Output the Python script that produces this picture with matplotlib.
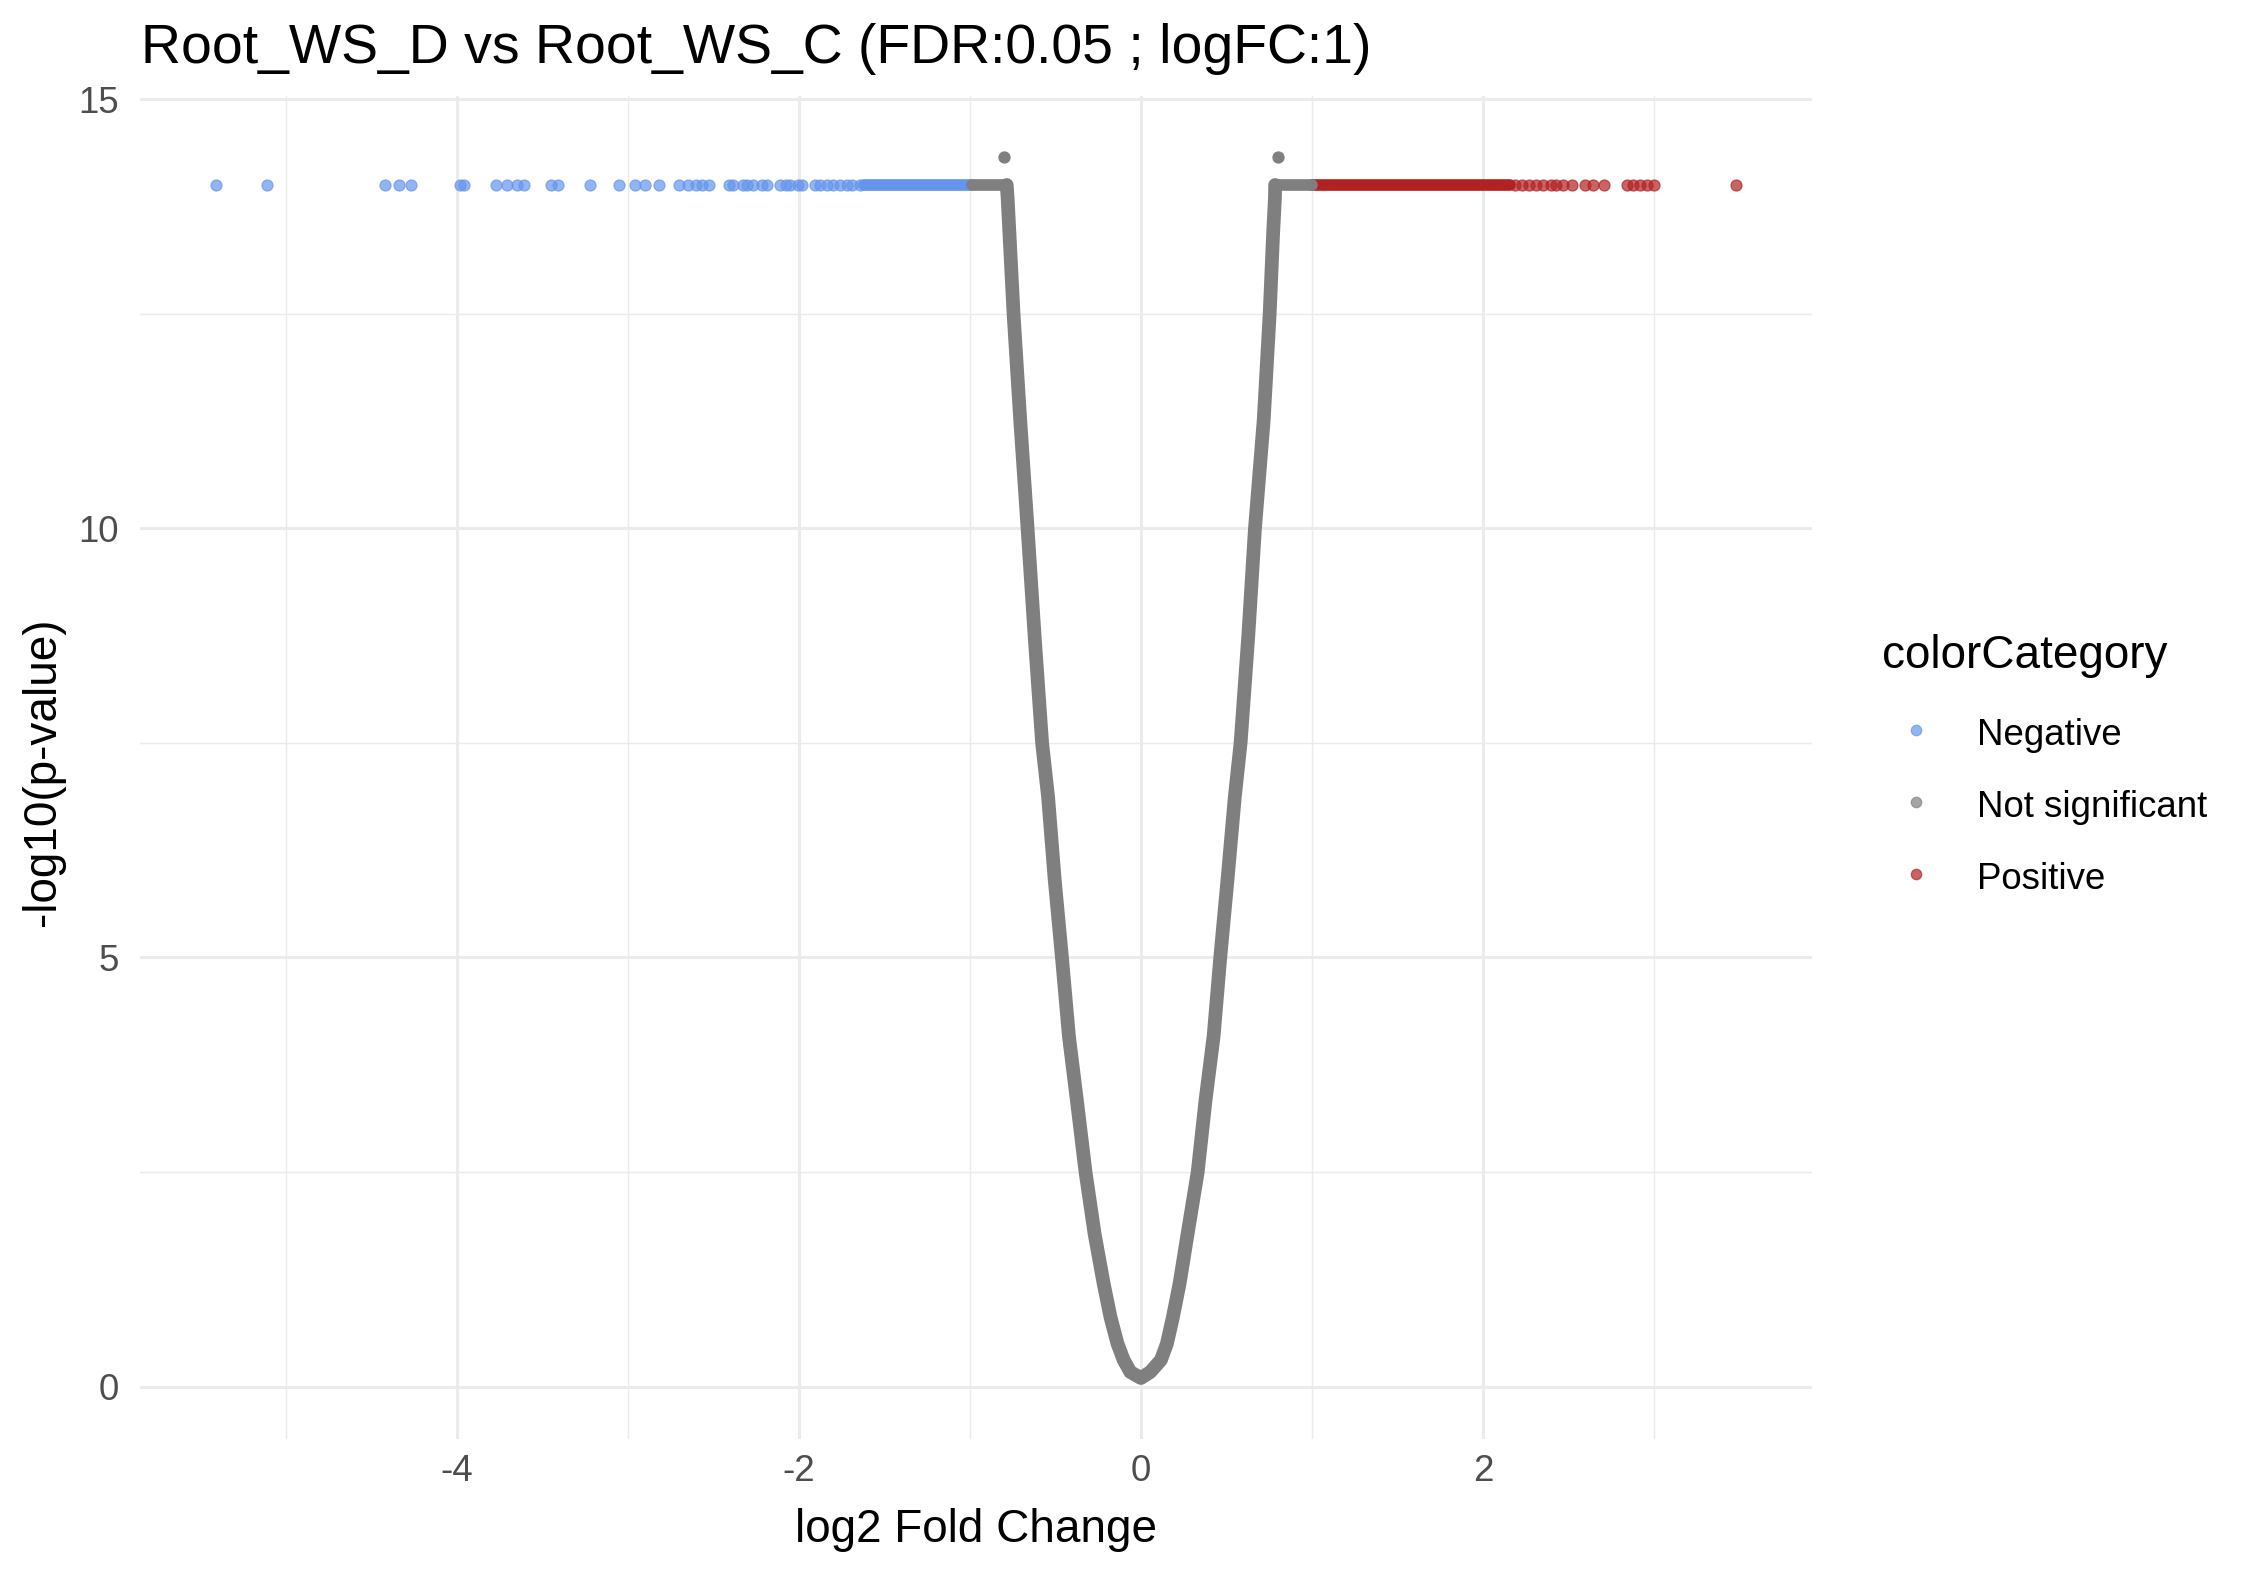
import matplotlib
matplotlib.use("Agg")
import matplotlib.pyplot as plt
from matplotlib.lines import Line2D

plt.rcParams['font.family'] = ['Liberation Sans', 'DejaVu Sans']
plt.rcParams['axes.unicode_minus'] = False

# capped points sit on one row at -log10(p) = 14
cap_y = 14.0
neg_x = [-5.41, -5.11, -4.42, -4.34, -4.27, -3.98, -3.96, -3.77, -3.71, -3.65,
         -3.61, -3.45, -3.41, -3.22, -3.05, -2.96, -2.90, -2.82, -2.70, -2.65,
         -2.60, -2.57, -2.525, -2.408, -2.384, -2.33, -2.306, -2.267, -2.219,
         -2.189, -2.111, -2.076, -2.053, -2.004, -1.984, -1.906, -1.877, -1.838,
         -1.799, -1.76, -1.721, -1.692, -1.643]
neg_run = [-1.62, -0.99]          # dense stretch of negatives
pos_x = [2.19, 2.23, 2.27, 2.31, 2.35, 2.40, 2.43, 2.47, 2.52, 2.60,
         2.645, 2.71, 2.84, 2.88, 2.92, 2.96, 3.00, 3.48]
pos_run = [1.0, 2.16]             # dense stretch of positives
ns_run_left = [-0.99, -0.785]
ns_run_right = [0.785, 1.0]
ns_top_x = [-0.80, 0.80]
ns_top_y = [14.33, 14.33]

# the not-significant "V" (read along the band)
v_y = [14.0, 13.86, 13.43, 12.5, 11.26, 10.0, 8.75, 7.5, 6.87, 5.92, 5.0,
       4.08, 3.34, 2.5, 1.78, 1.20, 0.81, 0.50, 0.31, 0.17, 0.10]
v_left = [-0.785, -0.78, -0.769, -0.745, -0.706, -0.663, -0.622, -0.578, -0.543,
          -0.505, -0.462, -0.421, -0.375, -0.324, -0.271, -0.218, -0.178, -0.137,
          -0.101, -0.062, 0.0]
v_right = [0.785, 0.784, 0.773, 0.753, 0.718, 0.667, 0.628, 0.583, 0.549,
           0.507, 0.464, 0.425, 0.378, 0.332, 0.273, 0.226, 0.187, 0.152,
           0.117, 0.055, 0.0]

categories = ['Negative', 'Not significant', 'Positive']
colors = {'Negative': '#6495ED', 'Not significant': '#7F7F7F', 'Positive': '#B22222'}

fig = plt.figure(figsize=(15, 10.5), dpi=150)
ax = fig.add_axes([0.0622, 0.0863, 0.7431, 0.853])

dot = dict(s=28, alpha=0.7, linewidths=0.6, zorder=3)
ax.scatter(neg_x, [cap_y] * len(neg_x), color=colors['Negative'],
           edgecolors=colors['Negative'], **dot)
ax.scatter(pos_x, [cap_y] * len(pos_x), color=colors['Positive'],
           edgecolors=colors['Positive'], **dot)
ax.scatter(ns_top_x, ns_top_y, color=colors['Not significant'],
           edgecolors=colors['Not significant'], s=28, linewidths=0.6, zorder=3)

run = dict(lw=5.6, solid_capstyle='round', zorder=3)
ax.plot(neg_run, [cap_y, cap_y], color=colors['Negative'], **run)
ax.plot(pos_run, [cap_y, cap_y], color=colors['Positive'], **run)
ax.plot(ns_run_left, [cap_y, cap_y], color=colors['Not significant'], **run)
ax.plot(ns_run_right, [cap_y, cap_y], color=colors['Not significant'], **run)

vx = v_left + v_right[::-1]
vy = v_y + v_y[::-1]
ax.plot(vx, vy, color=colors['Not significant'], lw=6.6,
        solid_capstyle='round', solid_joinstyle='round', zorder=3)

# ggplot-like 5% expansion
all_x = neg_x + pos_x + vx
all_y = vy + ns_top_y
xr = max(all_x) - min(all_x)
yr = max(all_y) - min(all_y)
ax.set_xlim(min(all_x) - 0.05 * xr, max(all_x) + 0.05 * xr)
ax.set_ylim(min(all_y) - 0.05 * yr, max(all_y) + 0.05 * yr)

ax.set_xticks([-4, -2, 0, 2])
ax.set_xticks([-5, -3, -1, 1, 3], minor=True)
ax.set_yticks([0, 5, 10, 15])
ax.set_yticks([2.5, 7.5, 12.5], minor=True)
ax.grid(which='major', color='#EBEBEB', lw=1.45)
ax.grid(which='minor', color='#EBEBEB', lw=0.7)
ax.set_axisbelow(True)
for s in ax.spines.values():
    s.set_visible(False)
ax.tick_params(which='both', length=0)
ax.tick_params(axis='x', labelsize=17.6, labelcolor='#4D4D4D', pad=7)
ax.tick_params(axis='y', labelsize=17.6, labelcolor='#4D4D4D', pad=10)

fig.text(0.0627, 0.96, 'Root_WS_D vs Root_WS_C (FDR:0.05 ; logFC:1)',
         fontsize=26.6, ha='left', va='baseline')
fig.text(0.4338, 0.021, 'log2 Fold Change', fontsize=22, ha='center', va='baseline')
fig.text(0.0191, 0.51, '-log10(p-value)', fontsize=22, rotation=90,
         ha='center', va='center')

# legend
fig.text(0.8364, 0.5759, 'colorCategory', fontsize=22, ha='left', va='baseline')
leg_y = [0.5365, 0.4908, 0.4451]
for cat, yy in zip(categories, leg_y):
    fig.add_artist(Line2D([0.8516], [yy], marker='o', ms=5.0, mew=0.6,
                          color=colors[cat], alpha=0.7, linestyle='none',
                          transform=fig.transFigure))
    fig.text(0.8787, yy - 0.0095, cat, fontsize=17.6, ha='left', va='baseline')

fig.savefig('out.png', dpi=150, facecolor='white')
